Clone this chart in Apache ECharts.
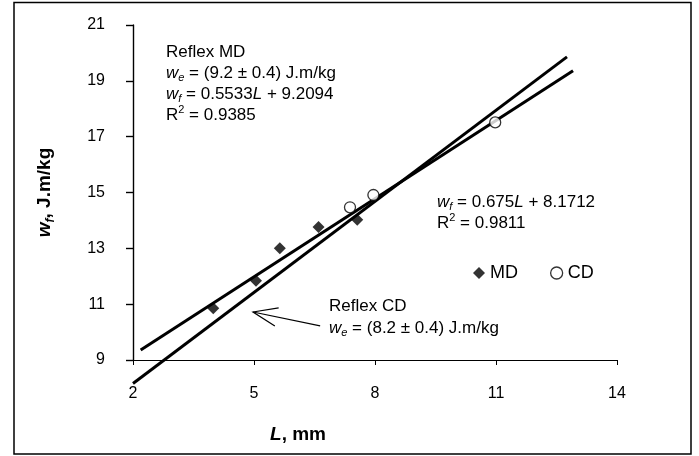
<!DOCTYPE html>
<html><head><meta charset="utf-8">
<script src="https://cdn.jsdelivr.net/npm/echarts@6/dist/echarts.min.js"></script>
<style>html,body{margin:0;padding:0;background:#fff}#c{width:699px;height:456px}</style>
</head><body><div id="c"></div>
<script>
// ---- data ----
const mdL = [3.99, 5.05, 5.64, 6.60, 7.56];
const mdW = [10.85, 11.84, 13.00, 13.76, 14.02];
const cdL = [7.38, 7.96, 10.98];
const cdW = [14.47, 14.91, 17.51];
const fitA_L = [2.0, 12.76];   // steeper trendline
const fitA_W = [8.16, 19.86];
const fitB_L = [2.19, 12.91];  // flatter trendline
const fitB_W = [9.36, 19.36];
const arrowTail = [6.64, 10.22];
const arrowTip = [4.975, 10.72];
const xMin = 2, xMax = 14, xStep = 3;
const yMin = 9, yMax = 21, yStep = 2;

const FONT = '"Liberation Sans", Arial, Helvetica, sans-serif';
const chart = echarts.init(document.getElementById('c'), null, {renderer: 'canvas'});

const zip = (a, b) => a.map((v, i) => [v, b[i]]);

chart.setOption({
  animation: false,
  backgroundColor: '#fff',
  grid: {left: 133, top: 25, right: 82, bottom: 96, containLabel: false},
  xAxis: {
    type: 'value', min: xMin, max: xMax, interval: xStep,
    splitLine: {show: false},
    axisLine: {lineStyle: {color: '#000', width: 1.2}},
    axisTick: {show: true, length: 5, lineStyle: {color: '#000'}},
    axisLabel: {margin: 26, color: '#000', fontSize: 16, fontFamily: FONT}
  },
  yAxis: {
    type: 'value', min: yMin, max: yMax, interval: yStep,
    splitLine: {show: false},
    axisLine: {show: true, lineStyle: {color: '#000', width: 1.4}},
    axisTick: {show: true, length: 7, lineStyle: {color: '#000', width: 1.4}},
    axisLabel: {margin: 28, color: '#000', fontSize: 16, fontFamily: FONT},
    name: '{i|w}{s|f}{b|, J.m/kg}',
    nameLocation: 'middle', nameRotate: 90, nameGap: 76,
    nameTextStyle: {
      rich: {
        i: {fontStyle: 'italic', fontWeight: 'bold', fontSize: 19, fontFamily: FONT, color: '#000', lineHeight: 24},
        s: {fontStyle: 'italic', fontWeight: 'bold', fontSize: 12, fontFamily: FONT, color: '#000', lineHeight: 14, verticalAlign: 'bottom'},
        b: {fontWeight: 'bold', fontSize: 19, fontFamily: FONT, color: '#000', lineHeight: 24}
      }
    }
  },
  legend: {
    left: 468, top: 259, itemWidth: 12, itemHeight: 12, itemGap: 32,
    textStyle: {fontSize: 18, fontFamily: FONT, color: '#000'},
    data: [
      {name: 'MD', icon: 'diamond', itemStyle: {color: '#000'}},
      {name: 'CD', icon: 'circle', itemStyle: {color: '#fff', borderColor: '#000', borderWidth: 1.3}}
    ]
  },
  series: [
    {name: 'fitA', type: 'line', data: zip(fitA_L, fitA_W), showSymbol: false, symbol: 'none',
     clip: false, silent: true, lineStyle: {color: '#000', width: 3}, z: 2},
    {name: 'fitB', type: 'line', data: zip(fitB_L, fitB_W), showSymbol: false, symbol: 'none',
     clip: false, silent: true, lineStyle: {color: '#000', width: 3}, z: 2},
    {name: 'MD', type: 'scatter', data: zip(mdL, mdW), symbol: 'diamond', symbolSize: 12,
     itemStyle: {color: '#000'}, z: 3},
    {name: 'CD', type: 'scatter', data: zip(cdL, cdW), symbol: 'circle', symbolSize: 11,
     itemStyle: {color: '#fff', borderColor: '#000', borderWidth: 1.3}, z: 3}
  ]
});

const FS = 17;
const rich = {
  n: {fontSize: FS, fontFamily: FONT, fill: '#000', lineHeight: 21},
  i: {fontSize: FS, fontFamily: FONT, fontStyle: 'italic', fill: '#000', lineHeight: 21},
  s: {fontSize: 11, fontFamily: FONT, fontStyle: 'italic', fill: '#000', lineHeight: 12, verticalAlign: 'bottom'},
  p: {fontSize: 11, fontFamily: FONT, fill: '#000', lineHeight: 12, verticalAlign: 'top'}
};
function txt(x, y, s) {
  return {type: 'text', x: x, y: y, z: 10,
    style: {text: s, rich: rich, textVerticalAlign: 'middle', verticalAlign: 'middle', fill: '#000',
            font: FS + 'px ' + FONT}};
}

const tip = chart.convertToPixel({gridIndex: 0}, arrowTip);
const tail = chart.convertToPixel({gridIndex: 0}, arrowTail);
const ang = Math.atan2(tail[1] - tip[1], tail[0] - tip[0]);
const hl = 26, ha = 21 * Math.PI / 180;
const h1 = [tip[0] + hl * Math.cos(ang - ha), tip[1] + hl * Math.sin(ang - ha)];
const h2 = [tip[0] + hl * Math.cos(ang + ha), tip[1] + hl * Math.sin(ang + ha)];

chart.setOption({
  graphic: [
    {type: 'rect', shape: {x: 14, y: 2.5, width: 677, height: 451.5}, z: 0, silent: true,
     style: {fill: null, stroke: '#000', lineWidth: 1.5}},
    txt(166, 52, '{n|Reflex MD}'),
    txt(166, 73, '{i|w}{s|e}{n| = (9.2 ± 0.4) J.m/kg}'),
    txt(166, 94, '{i|w}{s|f}{n| = 0.5533}{i|L}{n| + 9.2094}'),
    txt(166, 115, '{n|R}{p|2}{n| = 0.9385}'),
    txt(437, 202, '{i|w}{s|f}{n| = 0.675}{i|L}{n| + 8.1712}'),
    txt(437, 223, '{n|R}{p|2}{n| = 0.9811}'),
    txt(329, 306, '{n|Reflex CD}'),
    txt(329, 328, '{i|w}{s|e}{n| = (8.2 ± 0.4) J.m/kg}'),
    {type: 'text', x: 298, y: 435, z: 10,
     style: {text: '{i|L}{b|, mm}', textAlign: 'center', align: 'center', verticalAlign: 'middle', textVerticalAlign: 'middle',
       rich: {
         i: {fontSize: 19, fontFamily: FONT, fontStyle: 'italic', fontWeight: 'bold', fill: '#000'},
         b: {fontSize: 19, fontFamily: FONT, fontWeight: 'bold', fill: '#000'}
       }}},
    {type: 'polyline', z: 10, silent: true, shape: {points: [tail, tip]},
     style: {stroke: '#000', lineWidth: 1.2, fill: null}},
    {type: 'polyline', z: 10, silent: true, shape: {points: [h1, tip, h2]},
     style: {stroke: '#000', lineWidth: 1.2, fill: null}}
  ]
});
</script></body></html>
